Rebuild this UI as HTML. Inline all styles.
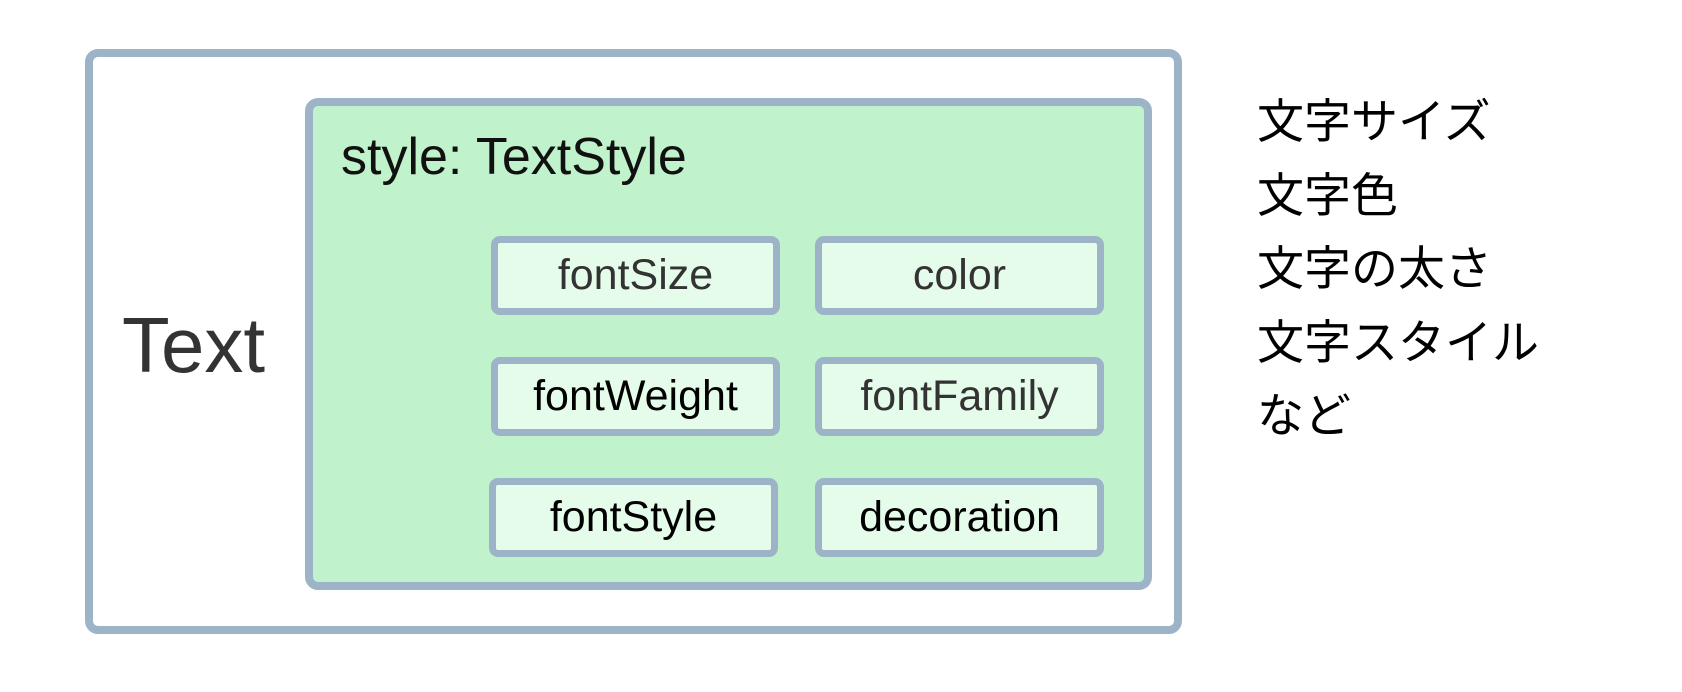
<!DOCTYPE html>
<html><head><meta charset="utf-8"><style>
html,body{margin:0;padding:0;background:#fff;width:1682px;height:692px;overflow:hidden;position:relative}
body{font-family:"Liberation Sans","Noto Sans CJK JP",sans-serif}
.b{position:absolute;box-sizing:border-box;border:8px solid #9db4c8;border-radius:13px}
.s{background:#e6fcea;border-width:7px;border-radius:9px;display:flex;align-items:center;justify-content:center;font-size:43px;color:#333}
.t{position:absolute;white-space:nowrap}
</style></head><body>
<div class="b" style="left:85px;top:49px;width:1097px;height:585px;background:#fff"></div>
<div class="b" style="left:305px;top:98px;width:847px;height:492px;background:#c0f2cb"></div>
<div class="t" style="left:122px;top:300px;font-size:78px;color:#333;line-height:90px">Text</div>
<div class="t" style="left:341px;top:127px;font-size:52px;color:#111;line-height:60px">style: TextStyle</div>
<div class="b s" style="left:491px;top:236px;width:289px;height:79px">fontSize</div>
<div class="b s" style="left:815px;top:236px;width:289px;height:79px">color</div>
<div class="b s" style="left:491px;top:357px;width:289px;height:79px;color:#000">fontWeight</div>
<div class="b s" style="left:815px;top:357px;width:289px;height:79px">fontFamily</div>
<div class="b s" style="left:489px;top:478px;width:289px;height:79px;color:#000">fontStyle</div>
<div class="b s" style="left:815px;top:478px;width:289px;height:79px;color:#000">decoration</div>
<div class="t" style="left:1257px;top:85px;font-size:47px;line-height:73.5px;color:#000">文字サイズ<br>文字色<br>文字の太さ<br>文字スタイル<br>など</div>
</body></html>
